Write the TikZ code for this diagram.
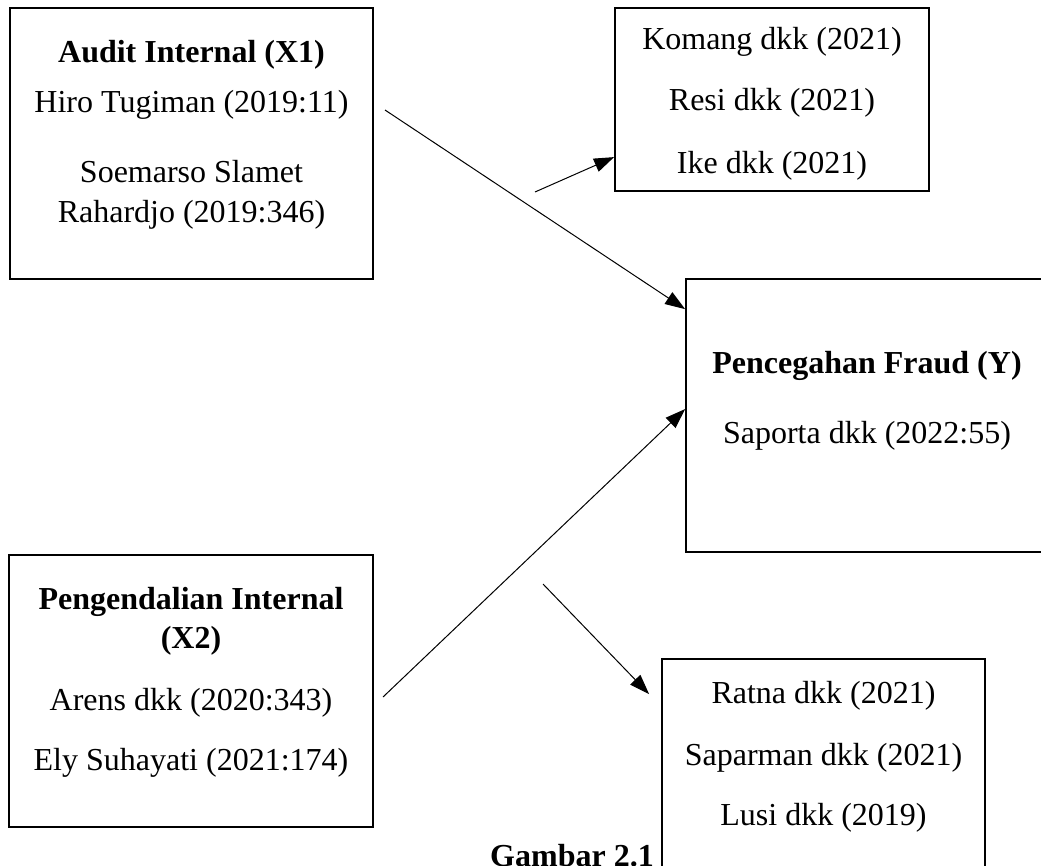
\documentclass[tikz,border=0pt]{standalone}
\usepackage{fontspec}
\setmainfont{Liberation Serif}
\usetikzlibrary{arrows.meta,positioning}

\tikzset{
  box/.style={draw, line width=1.8pt, inner sep=0pt},
  txt/.style={anchor=base, inner sep=0pt, font=\fontsize{32}{37}\selectfont},
  hd/.style={txt, font=\fontsize{32}{37}\selectfont\bfseries},
  link/.style={->, line width=1pt},
}

\begin{document}
\begin{tikzpicture}[x=1pt, y=-1pt, >={Triangle[length=20pt,width=14pt]}]
\useasboundingbox (0,0) rectangle (1041,865);
\begin{scope}
\clip (0,0) rectangle (1041,865);
% boxes
\node[box, minimum width=363pt, minimum height=271pt] (x1) at (191.5,143.5) {};
\node[box, minimum width=314pt, minimum height=183pt] (lit1) at (772,99.5) {};
\node[box, minimum width=362pt, minimum height=273pt] (y) at (867,415.5) {};
\node[box, minimum width=364pt, minimum height=272pt] (x2) at (191,691) {};
\node[box, minimum width=323pt, minimum height=241pt] (lit2) at (823.5,779.5) {};
\end{scope}

% texts
\node[hd] (x1a) at (191.5,62) {Audit Internal (X1)};
\node[txt] (x1b) at (191.5,112) {Hiro Tugiman (2019:11)};
\node[txt] (x1c) at (191.5,182) {Soemarso Slamet};
\node[txt] (x1d) at (191.5,222) {Rahardjo (2019:346)};

\node[txt] (lit1a) at (772,49) {Komang dkk (2021)};
\node[txt] (lit1b) at (772,110) {Resi dkk (2021)};
\node[txt] (lit1c) at (772,173) {Ike dkk (2021)};

\node[hd] (ya) at (867,373) {Pencegahan Fraud (Y)};
\node[txt] (yb) at (867,443) {Saporta dkk (2022:55)};

\node[hd] (x2a) at (191,609) {Pengendalian Internal};
\node[hd] (x2b) at (191,648) {(X2)};
\node[txt] (x2c) at (191,710) {Arens dkk (2020:343)};
\node[txt] (x2d) at (191,770) {Ely Suhayati (2021:174)};

\node[txt] (lit2a) at (823.5,703) {Ratna dkk (2021)};
\node[txt] (lit2b) at (823.5,765) {Saparman dkk (2021)};
\node[txt] (lit2c) at (823.5,825) {Lusi dkk (2019)};

\node[hd] (cap) at (572,866) {Gambar 2.1};

% arrows
\coordinate (s1) at (385,110);
\coordinate (e1) at ([yshift=-31pt]y.north west);
\coordinate (s2) at (383,697);
\coordinate (e2) at ([yshift=-131pt]y.north west);
\coordinate (s3) at (535,192);
\coordinate (e3) at ([yshift=-150pt]lit1.north west);
\coordinate (s4) at (543,584);
\coordinate (e4) at ([xshift=-12pt,yshift=-36pt]lit2.north west);
\draw[link] (s1) -- (e1);
\draw[link] (s2) -- (e2);
\draw[link] (s3) -- (e3);
\draw[link] (s4) -- (e4);
\end{tikzpicture}
\end{document}
